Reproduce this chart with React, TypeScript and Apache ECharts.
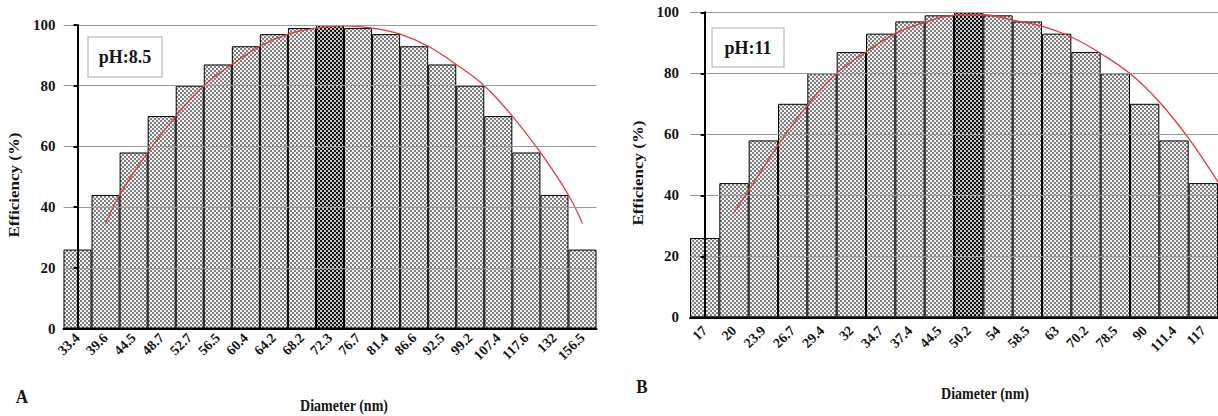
import React, { useEffect, useRef } from "react";
import * as echarts from "echarts";

// ---------- Panel A (pH 8.5) ----------
const categoriesA = ["33.4", "39.6", "44.5", "48.7", "52.7", "56.5", "60.4", "64.2", "68.2", "72.3", "76.7", "81.4", "86.6", "92.5", "99.2", "107.4", "117.6", "132", "156.5"];
const valuesA = [26, 44, 58, 70, 80, 87, 93, 97, 99, 100, 99, 97, 93, 87, 80, 70, 58, 44, 26];
const highlightA = 9;
// fitted curve, read at category positions (0 = first bar centre)
const curveAPos = [1, 1.5, 2.5, 3.5, 4.5, 5.5, 6.5, 7.5, 8.5, 9.5, 10.5, 11.5, 12.5, 13.5, 14.5, 15.5, 16.5, 17.5, 18];
const curveAVal = [34.6, 44, 58, 70, 80, 87, 93, 97, 99, 99.7, 99, 97, 93, 87, 80, 70, 58, 44, 34.6];

// ---------- Panel B (pH 11) ----------
const categoriesB = ["17", "20", "23.9", "26.7", "29.4", "32", "34.7", "37.4", "44.5", "50.2", "54", "58.5", "63", "70.2", "78.5", "90", "111.4", "117"];
const valuesB = [26, 44, 58, 70, 80, 87, 93, 97, 99, 100, 99, 97, 93, 87, 80, 70, 58, 44];
const highlightB = 9;
const curveBPos = [1, 1.5, 2.5, 3.5, 4.5, 5.5, 6.5, 7.5, 8.5, 9.5, 10.5, 11.5, 12.5, 13.5, 14.5, 15.5, 16.5, 17.5];
const curveBVal = [34.4, 41.6, 56.4, 69.5, 80, 87, 93, 96.7, 99, 99.2, 97.4, 95.5, 91.9, 86.5, 79.9, 70.6, 58.7, 44.4];

// ---------- axes ----------
const yMin = 0;
const yMax = 100;
const yStep = 20;
const yTitle = "Efficiency (%)";
const xTitle = "Diameter (nm)";
const labelA = "pH:8.5";
const labelB = "pH:11";

const FONT = '"Liberation Serif", "Times New Roman", serif';
const INK = "#151515";

function makePattern(dark: string, light: string) {
  const c = document.createElement("canvas");
  c.width = 4;
  c.height = 4;
  const ctx = c.getContext("2d") as CanvasRenderingContext2D;
  ctx.fillStyle = light;
  ctx.fillRect(0, 0, 4, 4);
  ctx.fillStyle = dark;
  ctx.fillRect(0, 0, 2, 2);
  ctx.fillRect(2, 2, 2, 2);
  return c;
}

export default function App() {
  const ref = useRef<HTMLDivElement>(null);

  useEffect(() => {
    if (!ref.current) return;
    const chart = echarts.init(ref.current, undefined, { renderer: "svg" });

    const light = { image: makePattern("#808080", "#f0f0f0"), repeat: "repeat" };
    const dark = { image: makePattern("#141414", "#c4c4c4"), repeat: "repeat" };

    const barData = (vals: number[], hi: number) =>
      vals.map((v, i) => (i === hi ? { value: v, itemStyle: { color: dark } } : v));

    const catAxis = (gridIndex: number, cats: string[], margin: number) => ({
      type: "category",
      gridIndex,
      data: cats,
      z: 5,
      axisLine: { show: true, lineStyle: { color: "#000", width: 2 } },
      axisTick: { show: false },
      axisLabel: {
        interval: 0,
        rotate: 45,
        margin,
        fontFamily: FONT,
        fontWeight: "bold",
        fontSize: 14,
        color: INK,
      },
      splitLine: { show: false },
    });

    const valAxisHidden = (gridIndex: number, n: number) => ({
      type: "value",
      gridIndex,
      min: -0.5,
      max: n - 0.5,
      show: false,
      splitLine: { show: false },
    });

    const yAxis = (gridIndex: number, margin: number) => ({
      type: "value",
      gridIndex,
      min: yMin,
      max: yMax,
      interval: yStep,
      z: 5,
      axisLine: { show: true, lineStyle: { color: "#000", width: 2 } },
      axisTick: { show: true, inside: false, length: 4, lineStyle: { color: "#000", width: 2 } },
      axisLabel: {
        margin,
        fontFamily: FONT,
        fontWeight: "bold",
        fontSize: 15,
        color: INK,
      },
      splitLine: { show: true, lineStyle: { color: "#9a9a9a", width: 1 } },
    });

    const barSeries = (idx: number, vals: number[], hi: number) => ({
      type: "bar",
      xAxisIndex: idx * 2,
      yAxisIndex: idx,
      data: barData(vals, hi),
      barCategoryGap: "0%",
      itemStyle: { color: light, borderColor: "#000", borderWidth: 1 },
      z: 2,
    });

    const curveSeries = (idx: number, pos: number[], vals: number[]) => ({
      type: "line",
      xAxisIndex: idx * 2 + 1,
      yAxisIndex: idx,
      data: pos.map((p, i) => [p, vals[i]]),
      smooth: 0.4,
      showSymbol: false,
      symbol: "none",
      lineStyle: { color: "#e03b3b", width: 1.3 },
      z: 4,
    });

    const text = (t: string, x: number, y: number, size: number, rot = 0, sx = 1, sy = 1) => ({
      type: "text",
      x,
      y,
      rotation: rot,
      scaleX: sx,
      scaleY: sy,
      z: 10,
      style: {
        text: t,
        font: `bold ${size}px ${FONT}`,
        fill: INK,
        align: "center",
        verticalAlign: "middle",
      },
    });

    const box = (t: string, x: number, y: number, w: number, h: number) => ({
      type: "group",
      z: 10,
      children: [
        {
          type: "rect",
          shape: { x, y, width: w, height: h },
          style: { fill: "#fff", stroke: "#c8c8c8", lineWidth: 1.5 },
        },
        {
          type: "text",
          x: x + w / 2,
          y: y + h / 2,
          style: {
            text: t,
            font: `bold 18px ${FONT}`,
            fill: INK,
            align: "center",
            verticalAlign: "middle",
          },
        },
      ],
    });

    chart.setOption({
      animation: false,
      backgroundColor: "#fff",
      grid: [
        { left: 63.5, top: 25, width: 533, height: 303.5, containLabel: false },
        { left: 690, top: 12.3, width: 529, height: 305, containLabel: false },
      ],
      xAxis: [
        catAxis(0, categoriesA, 7),
        valAxisHidden(0, categoriesA.length),
        catAxis(1, categoriesB, 11),
        valAxisHidden(1, categoriesB.length),
      ],
      yAxis: [yAxis(0, 8), yAxis(1, 11)],
      series: [
        barSeries(0, valuesA, highlightA),
        curveSeries(0, curveAPos, curveAVal),
        barSeries(1, valuesB, highlightB),
        curveSeries(1, curveBPos, curveBVal),
      ],
      graphic: [
        box(labelA, 88, 37, 74, 40),
        box(labelB, 712, 28, 72, 39),
        text(yTitle, 14, 185, 15, Math.PI / 2, 1.13, 1),
        text(yTitle, 638, 173, 15, Math.PI / 2, 1.13, 1),
        text(xTitle, 344, 405, 14, 0, 1, 1.2),
        text(xTitle, 985, 393, 14, 0, 1, 1.2),
        text("A", 22, 397, 17, 0, 1, 1.1),
        text("B", 642, 387, 17, 0, 1, 1.1),
      ],
    });

    return () => chart.dispose();
  }, []);

  return (
    <div
      ref={ref}
      style={{ position: "fixed", left: 0, top: 0, width: 1218, height: 416, background: "#fff" }}
    />
  );
}
